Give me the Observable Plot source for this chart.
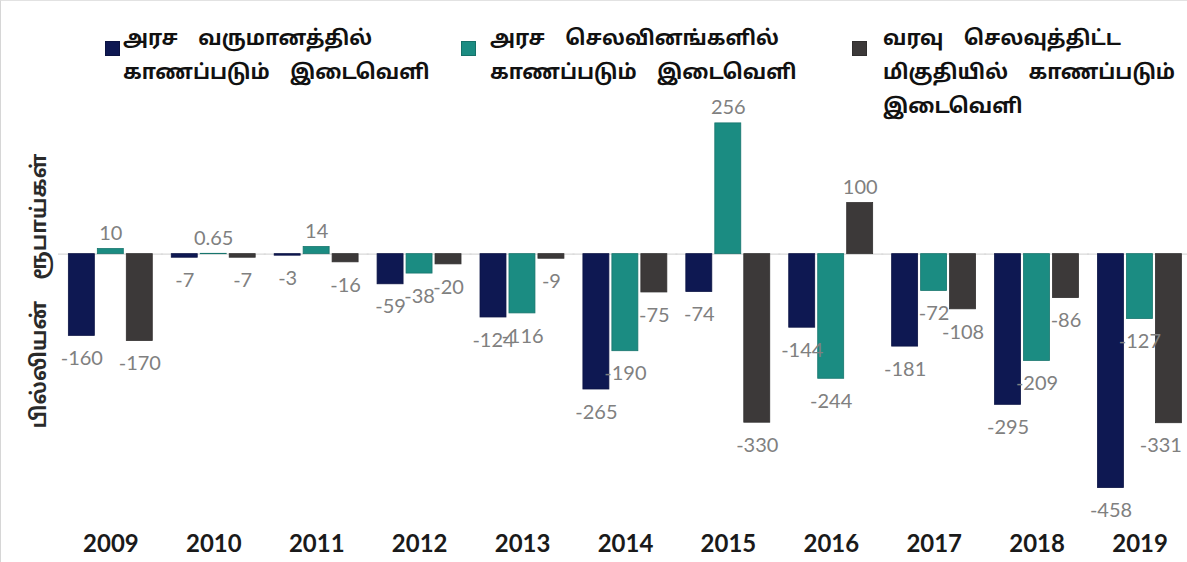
<!DOCTYPE html>
<html><head><meta charset="utf-8">
<script src="https://cdn.jsdelivr.net/npm/d3@7"></script>
<script src="https://cdn.jsdelivr.net/npm/@observablehq/plot@0.6"></script>
<style>
body{margin:0;background:#fff;}
#wrap{position:relative;width:1187px;height:562px;overflow:hidden;background:#fff;box-sizing:border-box;border-left:1px solid #d6d6d6;border-top:1px solid #e2e2e2;}
#chart{position:absolute;left:0;top:0;}
.leg{position:absolute;font-family:"Noto Sans Tamil","Latha","Noto Sans","DejaVu Sans",sans-serif;font-weight:bold;font-size:20.5px;line-height:34px;color:#111;word-spacing:15px;white-space:nowrap;}
.sw{position:absolute;width:13px;height:13px;}
#ytitle{position:absolute;left:40px;top:290px;transform:translate(-50%,-50%) rotate(-90deg);font-family:"Noto Sans Tamil","Latha","Noto Sans","DejaVu Sans",sans-serif;font-weight:bold;font-size:21px;color:#2a2a2a;white-space:nowrap;word-spacing:16px;}
</style></head><body>
<div id="wrap"><div id="chart"></div></div>
<script>
const years = ["2009","2010","2011","2012","2013","2014","2015","2016","2017","2018","2019"];
const seriesLines = [
  ["அரச வருமானத்தில்", "காணப்படும் இடைவெளி"],
  ["அரச செலவினங்களில்", "காணப்படும் இடைவெளி"],
  ["வரவு செலவுத்திட்ட", "மிகுதியில் காணப்படும்", "இடைவெளி"]
];
const yTitle = "பில்லியன் ரூபாய்கள்";
const revenueGap = [-160, -7, -3, -59, -124, -265, -74, -144, -181, -295, -458];
const expenditureGap = [10, 0.65, 14, -38, -116, -190, 256, -244, -72, -209, -127];
const budgetGap = [-170, -7, -16, -20, -9, -75, -330, 100, -108, -86, -331];
const colors = ["#0e1852", "#1b8c82", "#3c3939"];

const seriesValues = [revenueGap, expenditureGap, budgetGap];
const data = [];
years.forEach((yr, i) => seriesValues.forEach((arr, s) => data.push({year: yr, s, value: arr[i], last: i === years.length - 1 && s === 2})));

const labelStyle = {fx: "year", x: "s", y: "value", text: d => String(d.value), fill: "#808080", fontSize: 20, fontFamily: "Lato, 'Open Sans', sans-serif"};

const chart = Plot.plot({
  width: 1187, height: 562,
  marginTop: 122, marginBottom: 75, marginLeft: 63.6, marginRight: 1.7,
  fx: {domain: years, paddingInner: 0.12, paddingOuter: 0, label: null},
  x: {domain: [0, 1, 2], padding: 0.1, axis: null},
  y: {domain: [-458, 256], axis: null},
  color: {type: "ordinal", domain: [0, 1, 2], range: colors},
  style: {background: "transparent", overflow: "visible", fontFamily: "Lato, sans-serif"},
  marks: [
    Plot.ruleY([0], {stroke: "#d9d9d9", strokeWidth: 1.2, insetLeft: -7, insetRight: -7}),
    Plot.barY(data, {fx: "year", x: "s", y: "value", fill: "s", stroke: d => d3.color(colors[d.s]).darker(0.5).formatHex(), strokeWidth: 0.8}),
    Plot.text(data.filter(d => d.value >= 0), {...labelStyle, lineAnchor: "bottom", dy: -9}),
    Plot.text(data.filter(d => d.value < 0 && !d.last), {...labelStyle, lineAnchor: "top", dy: 15}),
    Plot.text(data.filter(d => d.last), {...labelStyle, lineAnchor: "top", dy: 15, textAnchor: "end", dx: 13}),
    Plot.axisFx({anchor: "bottom", tickSize: 0, tickPadding: 47, fontSize: 24, fontWeight: "bold", fill: "#1a1a1a", label: null})
  ]
});
document.getElementById("chart").appendChild(chart);

const wrap = document.getElementById("wrap");
const legPos = [{sx: 104, tx: 122}, {sx: 460, tx: 489}, {sx: 851, tx: 882}];
seriesLines.forEach((lines, i) => {
  const sw = document.createElement("div");
  sw.className = "sw";
  sw.style.left = legPos[i].sx + "px";
  sw.style.top = "40px";
  sw.style.background = colors[i];
  sw.style.border = "1px solid " + d3.color(colors[i]).darker(0.6).formatHex();
  wrap.appendChild(sw);
  const t = document.createElement("div");
  t.className = "leg";
  t.style.left = legPos[i].tx + "px";
  t.style.top = "22px";
  t.innerHTML = lines.join("<br>");
  wrap.appendChild(t);
});
const yt = document.createElement("div");
yt.id = "ytitle";
yt.textContent = yTitle;
wrap.appendChild(yt);
</script>
</body></html>
